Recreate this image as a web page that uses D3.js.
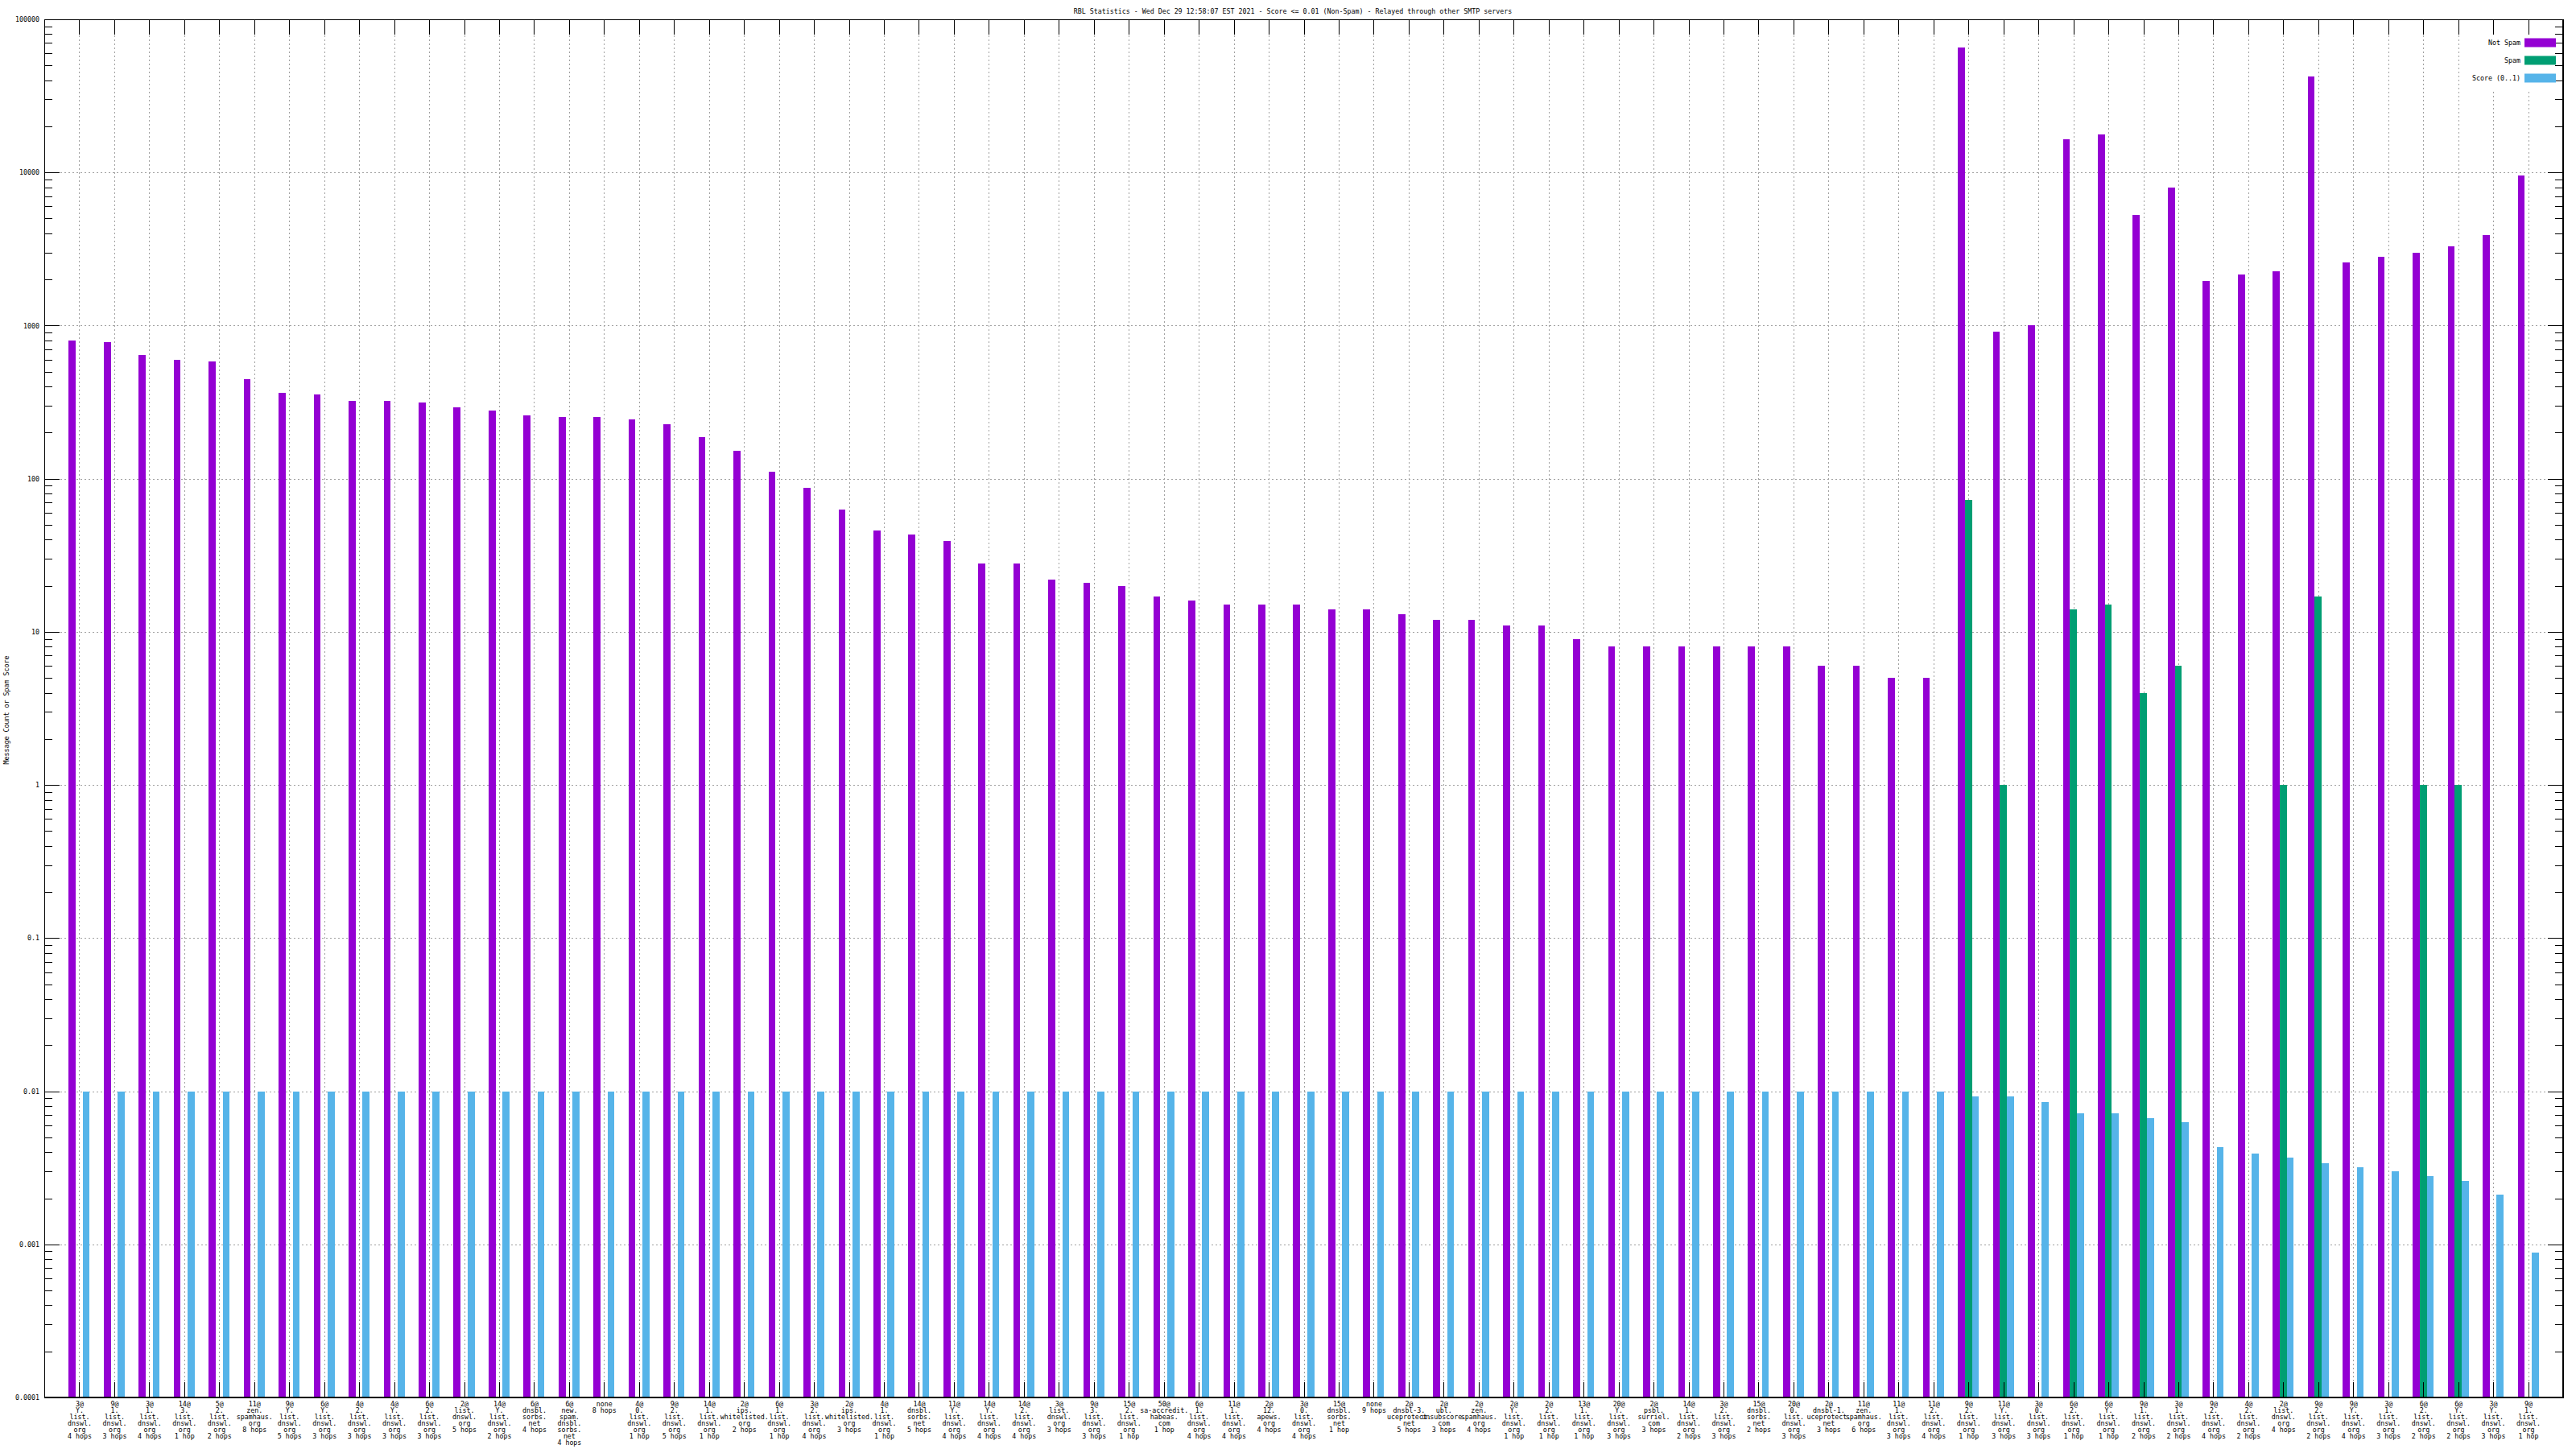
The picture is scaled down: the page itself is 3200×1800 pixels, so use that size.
<!DOCTYPE html>
<html><head><meta charset="utf-8">
<script src="https://cdn.jsdelivr.net/npm/d3@7"></script>
<style>
body{margin:0;background:#fff}
svg{display:block}
text{font-family:"DejaVu Sans Mono",monospace;font-size:8.3px;fill:#000}
</style>
</head><body>
<svg id="c" width="3200" height="1800"></svg>
<script>
const categories = [
"3@|Y.|list.|dnswl.|org|4 hops","9@|1.|list.|dnswl.|org|3 hops","3@|1.|list.|dnswl.|org|4 hops",
"14@|3.|list.|dnswl.|org|1 hop","5@|2.|list.|dnswl.|org|2 hops","11@|zen.|spamhaus.|org|8 hops",
"9@|Y.|list.|dnswl.|org|5 hops","6@|Y.|list.|dnswl.|org|3 hops","4@|2.|list.|dnswl.|org|3 hops",
"4@|Y.|list.|dnswl.|org|3 hops","6@|2.|list.|dnswl.|org|3 hops","2@|list.|dnswl.|org|5 hops",
"14@|Y.|list.|dnswl.|org|2 hops","6@|dnsbl.|sorbs.|net|4 hops","6@|new.|spam.|dnsbl.|sorbs.|net|4 hops",
"none|8 hops","4@|0.|list.|dnswl.|org|1 hop","9@|2.|list.|dnswl.|org|5 hops",
"14@|1.|list.|dnswl.|org|1 hop","2@|ips.|whitelisted.|org|2 hops","6@|1.|list.|dnswl.|org|1 hop",
"3@|2.|list.|dnswl.|org|4 hops","2@|ips.|whitelisted.|org|3 hops","4@|1.|list.|dnswl.|org|1 hop",
"14@|dnsbl.|sorbs.|net|5 hops","11@|Y.|list.|dnswl.|org|4 hops","14@|Y.|list.|dnswl.|org|4 hops",
"14@|2.|list.|dnswl.|org|4 hops","3@|list.|dnswl.|org|3 hops","9@|3.|list.|dnswl.|org|3 hops",
"15@|2.|list.|dnswl.|org|1 hop","50@|sa-accredit.|habeas.|com|1 hop","6@|1.|list.|dnswl.|org|4 hops",
"11@|1.|list.|dnswl.|org|4 hops","2@|12.|apews.|org|4 hops","3@|0.|list.|dnswl.|org|4 hops",
"15@|dnsbl.|sorbs.|net|1 hop","none|9 hops","2@|dnsbl-3.|uceprotect.|net|5 hops",
"2@|ubl.|unsubscore.|com|3 hops","2@|zen.|spamhaus.|org|4 hops","2@|Y.|list.|dnswl.|org|1 hop",
"2@|2.|list.|dnswl.|org|1 hop","13@|1.|list.|dnswl.|org|1 hop","20@|Y.|list.|dnswl.|org|3 hops",
"2@|psbl.|surriel.|com|3 hops","14@|1.|list.|dnswl.|org|2 hops","3@|2.|list.|dnswl.|org|3 hops",
"15@|dnsbl.|sorbs.|net|2 hops","20@|0.|list.|dnswl.|org|3 hops","2@|dnsbl-1.|uceprotect.|net|3 hops",
"11@|zen.|spamhaus.|org|6 hops","11@|1.|list.|dnswl.|org|3 hops","11@|2.|list.|dnswl.|org|4 hops",
"9@|2.|list.|dnswl.|org|1 hop","11@|Y.|list.|dnswl.|org|3 hops","3@|0.|list.|dnswl.|org|3 hops",
"6@|2.|list.|dnswl.|org|1 hop","6@|Y.|list.|dnswl.|org|1 hop","9@|1.|list.|dnswl.|org|2 hops",
"3@|1.|list.|dnswl.|org|2 hops","9@|2.|list.|dnswl.|org|4 hops","4@|2.|list.|dnswl.|org|2 hops",
"2@|list.|dnswl.|org|4 hops","9@|2.|list.|dnswl.|org|2 hops","9@|Y.|list.|dnswl.|org|4 hops",
"3@|1.|list.|dnswl.|org|3 hops","6@|2.|list.|dnswl.|org|2 hops","6@|Y.|list.|dnswl.|org|2 hops",
"3@|Y.|list.|dnswl.|org|3 hops","9@|1.|list.|dnswl.|org|1 hop"
];
const notSpam = [
800,780,644,598,584,445,365,356,322,322,
314,292,278,258,252,252,245,228,187,153,
111,87,63,46,43,39,28,28,22,21,
20,17,16,15,15,15,14,14,13,12,
12,11,11,9,8,8,8,8,8,8,
6,6,5,5,
65600,910,1000,16400,17700,5270,8000,1960,2160,2270,
42100,2600,2800,3000,3300,3900,9500
];
const spam = [
0,0,0,0,0,0,0,0,0,0,0,0,0,0,0,0,0,0,0,0,0,0,0,0,0,0,0,
0,0,0,0,0,0,0,0,0,0,0,0,0,0,0,0,0,0,0,0,0,0,0,0,0,0,0,
73,1,0,14,15,4,6,0,0,1,17,0,0,1,1,0,0
];
const score = [
0.01,0.01,0.01,0.01,0.01,0.01,0.01,0.01,0.01,0.01,0.01,0.01,0.01,0.01,0.01,0.01,0.01,0.01,
0.01,0.01,0.01,0.01,0.01,0.01,0.01,0.01,0.01,0.01,0.01,0.01,0.01,0.01,0.01,0.01,0.01,0.01,
0.01,0.01,0.01,0.01,0.01,0.01,0.01,0.01,0.01,0.01,0.01,0.01,0.01,0.01,0.01,0.01,0.01,0.01,
0.0092,0.0092,0.0085,0.0072,0.0072,0.0067,0.0063,0.0043,0.0039,0.0037,
0.0034,0.0032,0.0030,0.0028,0.0026,0.0021,0.00088
];
const yTickValues = [1e5,1e4,1e3,100,10,1,0.1,0.01,0.001,0.0001];
const yTickLabels = ["100000","10000","1000","100","10","1","0.1","0.01","0.001","0.0001"];
const seriesNames = ["Not Spam","Spam","Score (0..1)"];
const seriesColors = ["#9400d3","#009e73","#56b4e9"];
const titleText = "RBL Statistics - Wed Dec 29 12:58:07 EST 2021 - Score <= 0.01 (Non-Spam) - Relayed through other SMTP servers";
const yTitle = "Message Count or Spam Score";

const L=55, R=3184, T=24, B=1736;
const svg = d3.select("#c");
const n = categories.length;
const x = d3.scaleLinear().domain([-1, n]).range([L, R]);
const y = d3.scaleLog().domain([1e-4, 1e5]).range([B, T]);
const bw = x(0.2) - x(0);
const idx = d3.range(n);

// grid
const grid = svg.append("g").attr("stroke","#a0a0a0").attr("stroke-width",1)
  .attr("stroke-dasharray","2,3").attr("shape-rendering","crispEdges");
grid.selectAll("line.h").data(yTickValues.slice(1,-1)).join("line")
  .attr("x1",L).attr("x2",R).attr("y1",d=>Math.round(y(d))+0.5).attr("y2",d=>Math.round(y(d))+0.5);
grid.selectAll("line.v").data(idx).join("line")
  .attr("y1",T).attr("y2",B).attr("x1",d=>Math.round(x(d))+0.5).attr("x2",d=>Math.round(x(d))+0.5);

// bars
const series = [notSpam, spam, score];
series.forEach((vals, s) => {
  const off = (s - 1) * bw;
  svg.append("g").attr("fill", seriesColors[s]).attr("shape-rendering","crispEdges")
    .selectAll("rect").data(idx.filter(i => vals[i] > 0)).join("rect")
    .attr("x", i => x(i) + off - bw/2)
    .attr("width", bw)
    .attr("y", i => y(vals[i]))
    .attr("height", i => B - y(vals[i]));
});

// opaque key box
svg.append("rect").attr("x",3062).attr("y",T+1).attr("width",R-3062).attr("height",86).attr("fill","#fff");

// axes
function styleAxis(g){
  g.attr("font-family",null).attr("font-size",null);
  g.selectAll("path,line").attr("stroke","#000").attr("shape-rendering","crispEdges");
}
const minorVals = [];
for (let e=-4; e<5; e++) for (let k=2; k<=9; k++) minorVals.push(k*Math.pow(10,e));

svg.append("g").attr("transform",`translate(${L},0)`)
  .call(d3.axisLeft(y).tickValues(yTickValues).tickFormat((d,i)=>yTickLabels[i]).tickSize(-19).tickSizeOuter(0).tickPadding(6))
  .call(styleAxis);
svg.append("g").attr("transform",`translate(${L},0)`)
  .call(d3.axisLeft(y).tickValues(minorVals).tickFormat("").tickSize(-10).tickSizeOuter(0))
  .call(styleAxis);
svg.append("g").attr("transform",`translate(${R},0)`)
  .call(d3.axisRight(y).tickValues(yTickValues).tickFormat("").tickSize(-19).tickSizeOuter(0))
  .call(styleAxis);
svg.append("g").attr("transform",`translate(${R},0)`)
  .call(d3.axisRight(y).tickValues(minorVals).tickFormat("").tickSize(-10).tickSizeOuter(0))
  .call(styleAxis);
svg.append("g").attr("transform",`translate(0,${T})`)
  .call(d3.axisTop(x).tickValues(idx).tickFormat("").tickSize(-19).tickSizeOuter(0))
  .call(styleAxis);
const xb = svg.append("g").attr("transform",`translate(0,${B})`)
  .call(d3.axisBottom(x).tickValues(idx).tickFormat("").tickSize(-19).tickSizeOuter(0))
  .call(styleAxis);
xb.selectAll(".tick").append("text")
  .attr("text-anchor","middle")
  .each(function(i){
    const lines = categories[i].split("|");
    d3.select(this).selectAll("tspan").data(lines).join("tspan")
      .attr("x",0).attr("y",(d,k)=>10.5 + k*8).text(d=>d);
  });

// border
svg.append("rect").attr("x",L+0.5).attr("y",T+0.5).attr("width",R-L-1).attr("height",B-T-1)
  .attr("fill","none").attr("stroke","#000").attr("shape-rendering","crispEdges");

// title
svg.append("text").attr("x",1606).attr("y",16.5).attr("text-anchor","middle").text(titleText);
// y title
svg.append("text").attr("transform","translate(11,882) rotate(-90)").attr("text-anchor","middle")
  .text(yTitle);

// legend
const key = svg.append("g");
seriesNames.forEach((name, s) => {
  const cy = 53 + s*22;
  key.append("text").attr("x",3131).attr("y",cy+3).attr("text-anchor","end").text(name);
  key.append("rect").attr("x",3136).attr("y",cy-5.5).attr("width",39).attr("height",11)
    .attr("fill",seriesColors[s]);
});
</script>
</body></html>
